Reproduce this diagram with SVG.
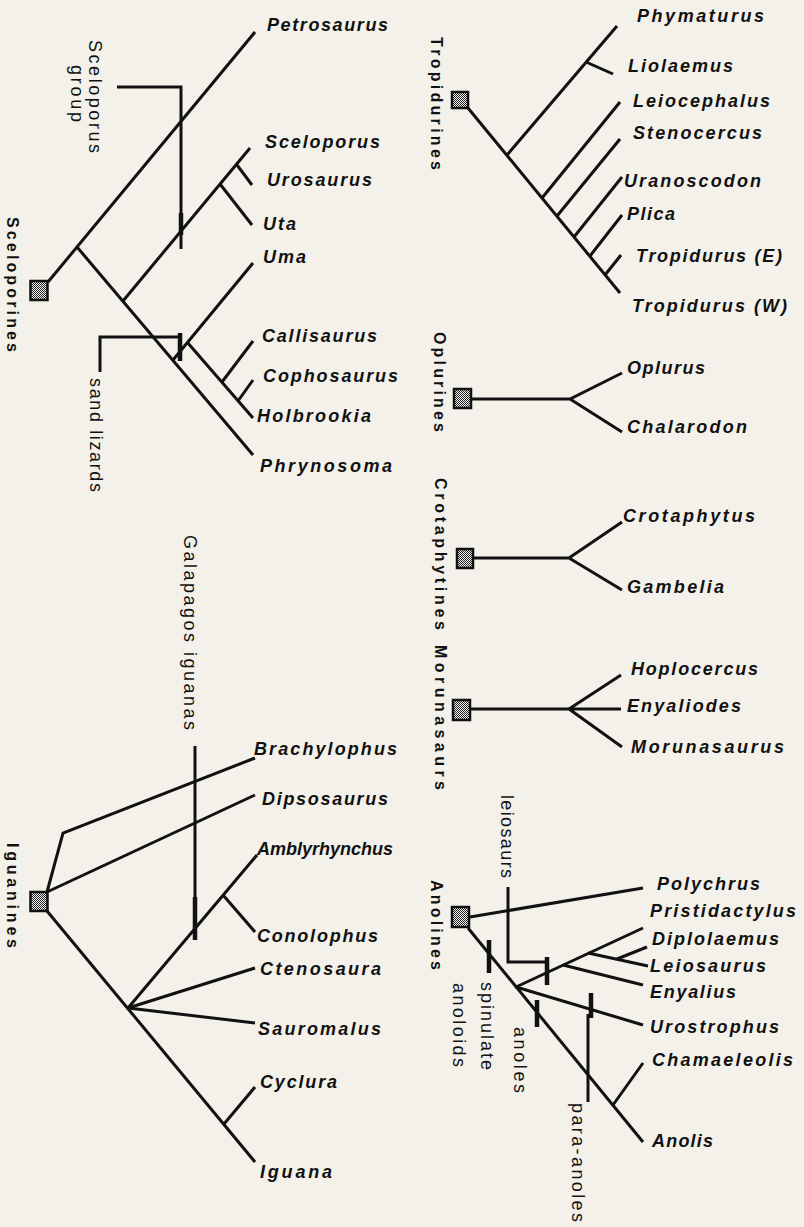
<svg xmlns="http://www.w3.org/2000/svg" width="804" height="1227" viewBox="0 0 804 1227">
<defs>
<pattern id="stip" width="2" height="2" patternUnits="userSpaceOnUse">
<rect width="2" height="2" fill="#f4f4f4"/>
<rect width="1" height="1" fill="#222"/>
<rect x="1" y="1" width="1" height="1" fill="#222"/>
</pattern>
<style>
.sp{font-family:"Liberation Sans",Arial,sans-serif;font-weight:bold;font-style:italic;font-size:18px;fill:#111;lengthAdjust:spacing}
.grp{font-family:"Liberation Sans",Arial,sans-serif;font-weight:bold;font-size:16px;fill:#111}
.ann{font-family:"Liberation Sans",Arial,sans-serif;font-size:18px;fill:#111}
.box{fill:url(#stip);stroke:#111;stroke-width:2.5}
.ln{fill:none;stroke:#111;stroke-width:3;stroke-linecap:butt;stroke-linejoin:miter}
.bar{fill:none;stroke:#111;stroke-width:4.5}
</style>
</defs>
<rect width="804" height="1227" fill="#f3f1ea"/>

<g id="connectors" class="ln">
<!-- Sceloporines -->
<path d="M48,282 L255,32"/>
<path d="M77,247 L253,455"/>
<path d="M123,301 L250,148"/>
<path d="M237,165 L252,185"/>
<path d="M220,184 L252,225"/>
<path d="M173,360 L253,263"/>
<path d="M187,342 L253,418"/>
<path d="M222,382 L253,341"/>
<path d="M238,401 L253,380"/>
<!-- Tropidurines -->
<path d="M468,108 L620,293"/>
<path d="M507,155 L617,26"/>
<path d="M586,62 L613,74"/>
<path d="M542,198 L620,102"/>
<path d="M557,216 L620,139"/>
<path d="M574,237 L622,177"/>
<path d="M590,256 L622,215"/>
<path d="M605,275 L621,255"/>
<!-- Oplurines -->
<path d="M471,399 H570 L622,373 M570,399 L622,432"/>
<!-- Crotaphytines -->
<path d="M473,558 H569 L622,522 M569,558 L622,590"/>
<!-- Morunasaurs -->
<path d="M470,709 H621 M569,709 L621,675 M569,709 L622,747"/>
<!-- Anolines -->
<path d="M470,917 L643,888"/>
<path d="M468,928 L643,1142"/>
<path d="M516,987 L643,928"/>
<path d="M588,953 L648,966"/>
<path d="M617,959 L647,947"/>
<path d="M563,965 L643,985"/>
<path d="M516,987 L643,1025"/>
<path d="M613,1105 L643,1063"/>
<!-- Iguanines -->
<path d="M47,892 L63,833 L255,758"/>
<path d="M47,892 L255,795"/>
<path d="M47,911 L255,1162"/>
<path d="M128,1008 L257,855"/>
<path d="M223,895 L255,932"/>
<path d="M128,1008 L255,968"/>
<path d="M128,1008 L255,1023"/>
<path d="M224,1124 L255,1087"/>
</g>

<g id="brackets">
<path class="ln" d="M117,87 H181 V249"/>
<path class="bar" d="M181,213 V235"/>
<path class="ln" d="M100,372 V337 H180"/>
<path class="bar" d="M180,333 V361"/>
<path class="ln" d="M195,746 V940"/>
<path class="bar" d="M195,897 V940"/>
<path class="bar" d="M489,940 V973"/>
<path class="ln" d="M508,887 V962 H547"/>
<path class="bar" d="M547,957 V985"/>
<path class="bar" d="M537,1000 V1027"/>
<path class="bar" d="M591,993 V1018"/>
<path class="ln" d="M588,1014 V1102"/>
</g>

<g id="ann-labels" class="ann">
<text transform="translate(89,40) rotate(90)" textLength="113" lengthAdjust="spacing">Sceloporus</text>
<text transform="translate(71,65) rotate(90)" textLength="57" lengthAdjust="spacing">group</text>
<text transform="translate(90,378) rotate(90)" textLength="114" lengthAdjust="spacing">sand lizards</text>
<text transform="translate(184,535) rotate(90)" textLength="195" lengthAdjust="spacing">Galapagos iguanas</text>
<text transform="translate(501,795) rotate(90)" textLength="83" lengthAdjust="spacing">leiosaurs</text>
<text transform="translate(481,982) rotate(90)" textLength="88" lengthAdjust="spacing">spinulate</text>
<text transform="translate(453,983) rotate(90)" textLength="84" lengthAdjust="spacing">anoloids</text>
<text transform="translate(514,1027) rotate(90)" textLength="66" lengthAdjust="spacing">anoles</text>
<text transform="translate(572,1103) rotate(90)" textLength="119" lengthAdjust="spacing">para-anoles</text>
</g>

<g id="Sceloporines">
<rect class="box" x="30.5" y="281" width="17" height="19"/>
<text class="grp" transform="translate(7,217) rotate(90)" textLength="135" lengthAdjust="spacing">Sceloporines</text>
</g>
<g id="Tropidurines">
<rect class="box" x="452" y="92" width="16" height="16"/>
<text class="grp" transform="translate(431,37) rotate(90)" textLength="133" lengthAdjust="spacing">Tropidurines</text>
</g>
<g id="Oplurines">
<rect class="box" x="454" y="389" width="17" height="19"/>
<text class="grp" transform="translate(434,332) rotate(90)" textLength="100" lengthAdjust="spacing">Oplurines</text>
</g>
<g id="Crotaphytines">
<rect class="box" x="457" y="549" width="16" height="19"/>
<text class="grp" transform="translate(435,478) rotate(90)" textLength="152" lengthAdjust="spacing">Crotaphytines</text>
</g>
<g id="Morunasaurs">
<rect class="box" x="453" y="700" width="17" height="20"/>
<text class="grp" transform="translate(435,645) rotate(90)" textLength="145" lengthAdjust="spacing">Morunasaurs</text>
</g>
<g id="Anolines">
<rect class="box" x="452" y="907" width="17" height="20"/>
<text class="grp" transform="translate(431,880) rotate(90)" textLength="90" lengthAdjust="spacing">Anolines</text>
</g>
<g id="Iguanines">
<rect class="box" x="30.5" y="892" width="17" height="19"/>
<text class="grp" transform="translate(7,843) rotate(90)" textLength="105" lengthAdjust="spacing">Iguanines</text>
</g>

<g id="taxa" class="sp">
<g id="t-petrosaurus"><text x="267" y="31" textLength="121" lengthAdjust="spacing">Petrosaurus</text></g>
<g id="t-sceloporus"><text x="265" y="148" textLength="115" lengthAdjust="spacing">Sceloporus</text></g>
<g id="t-urosaurus"><text x="267" y="186" textLength="105" lengthAdjust="spacing">Urosaurus</text></g>
<g id="t-uta"><text x="263" y="230" textLength="33" lengthAdjust="spacing">Uta</text></g>
<g id="t-uma"><text x="263" y="263" textLength="43" lengthAdjust="spacing">Uma</text></g>
<g id="t-callisaurus"><text x="262" y="342" textLength="115" lengthAdjust="spacing">Callisaurus</text></g>
<g id="t-cophosaurus"><text x="263" y="382" textLength="135" lengthAdjust="spacing">Cophosaurus</text></g>
<g id="t-holbrookia"><text x="257" y="422" textLength="114" lengthAdjust="spacing">Holbrookia</text></g>
<g id="t-phrynosoma"><text x="260" y="472" textLength="132" lengthAdjust="spacing">Phrynosoma</text></g>

<g id="t-phymaturus"><text x="637" y="22" textLength="127" lengthAdjust="spacing">Phymaturus</text></g>
<g id="t-liolaemus"><text x="628" y="72" textLength="105" lengthAdjust="spacing">Liolaemus</text></g>
<g id="t-leiocephalus"><text x="633" y="107" textLength="137" lengthAdjust="spacing">Leiocephalus</text></g>
<g id="t-stenocercus"><text x="633" y="139" textLength="129" lengthAdjust="spacing">Stenocercus</text></g>
<g id="t-uranoscodon"><text x="624" y="187" textLength="137" lengthAdjust="spacing">Uranoscodon</text></g>
<g id="t-plica"><text x="627" y="220" textLength="48" lengthAdjust="spacing">Plica</text></g>
<g id="t-tropidurus-e"><text x="636" y="262" textLength="146" lengthAdjust="spacing">Tropidurus (E)</text></g>
<g id="t-tropidurus-w"><text x="632" y="312" textLength="155" lengthAdjust="spacing">Tropidurus (W)</text></g>

<g id="t-oplurus"><text x="627" y="374" textLength="78" lengthAdjust="spacing">Oplurus</text></g>
<g id="t-chalarodon"><text x="627" y="433" textLength="120" lengthAdjust="spacing">Chalarodon</text></g>
<g id="t-crotaphytus"><text x="623" y="522" textLength="132" lengthAdjust="spacing">Crotaphytus</text></g>
<g id="t-gambelia"><text x="627" y="593" textLength="97" lengthAdjust="spacing">Gambelia</text></g>
<g id="t-hoplocercus"><text x="631" y="675" textLength="127" lengthAdjust="spacing">Hoplocercus</text></g>
<g id="t-enyaliodes"><text x="627" y="712" textLength="114" lengthAdjust="spacing">Enyaliodes</text></g>
<g id="t-morunasaurus"><text x="631" y="753" textLength="153" lengthAdjust="spacing">Morunasaurus</text></g>

<g id="t-polychrus"><text x="657" y="890" textLength="103" lengthAdjust="spacing">Polychrus</text></g>
<g id="t-pristidactylus"><text x="650" y="917" textLength="146" lengthAdjust="spacing">Pristidactylus</text></g>
<g id="t-diplolaemus"><text x="652" y="945" textLength="127" lengthAdjust="spacing">Diplolaemus</text></g>
<g id="t-leiosaurus"><text x="650" y="972" textLength="116" lengthAdjust="spacing">Leiosaurus</text></g>
<g id="t-enyalius"><text x="650" y="998" textLength="86" lengthAdjust="spacing">Enyalius</text></g>
<g id="t-urostrophus"><text x="650" y="1033" textLength="129" lengthAdjust="spacing">Urostrophus</text></g>
<g id="t-chamaeleolis"><text x="652" y="1066" textLength="141" lengthAdjust="spacing">Chamaeleolis</text></g>
<g id="t-anolis"><text x="652" y="1147" textLength="61" lengthAdjust="spacing">Anolis</text></g>

<g id="t-brachylophus"><text x="254" y="755" textLength="143" lengthAdjust="spacing">Brachylophus</text></g>
<g id="t-dipsosaurus"><text x="262" y="805" textLength="126" lengthAdjust="spacing">Dipsosaurus</text></g>
<g id="t-amblyrhynchus"><text x="257" y="855" textLength="136" lengthAdjust="spacing">Amblyrhynchus</text></g>
<g id="t-conolophus"><text x="257" y="942" textLength="121" lengthAdjust="spacing">Conolophus</text></g>
<g id="t-ctenosaura"><text x="260" y="975" textLength="121" lengthAdjust="spacing">Ctenosaura</text></g>
<g id="t-sauromalus"><text x="258" y="1035" textLength="123" lengthAdjust="spacing">Sauromalus</text></g>
<g id="t-cyclura"><text x="260" y="1088" textLength="77" lengthAdjust="spacing">Cyclura</text></g>
<g id="t-iguana"><text x="260" y="1178" textLength="72" lengthAdjust="spacing">Iguana</text></g>
</g>
</svg>
